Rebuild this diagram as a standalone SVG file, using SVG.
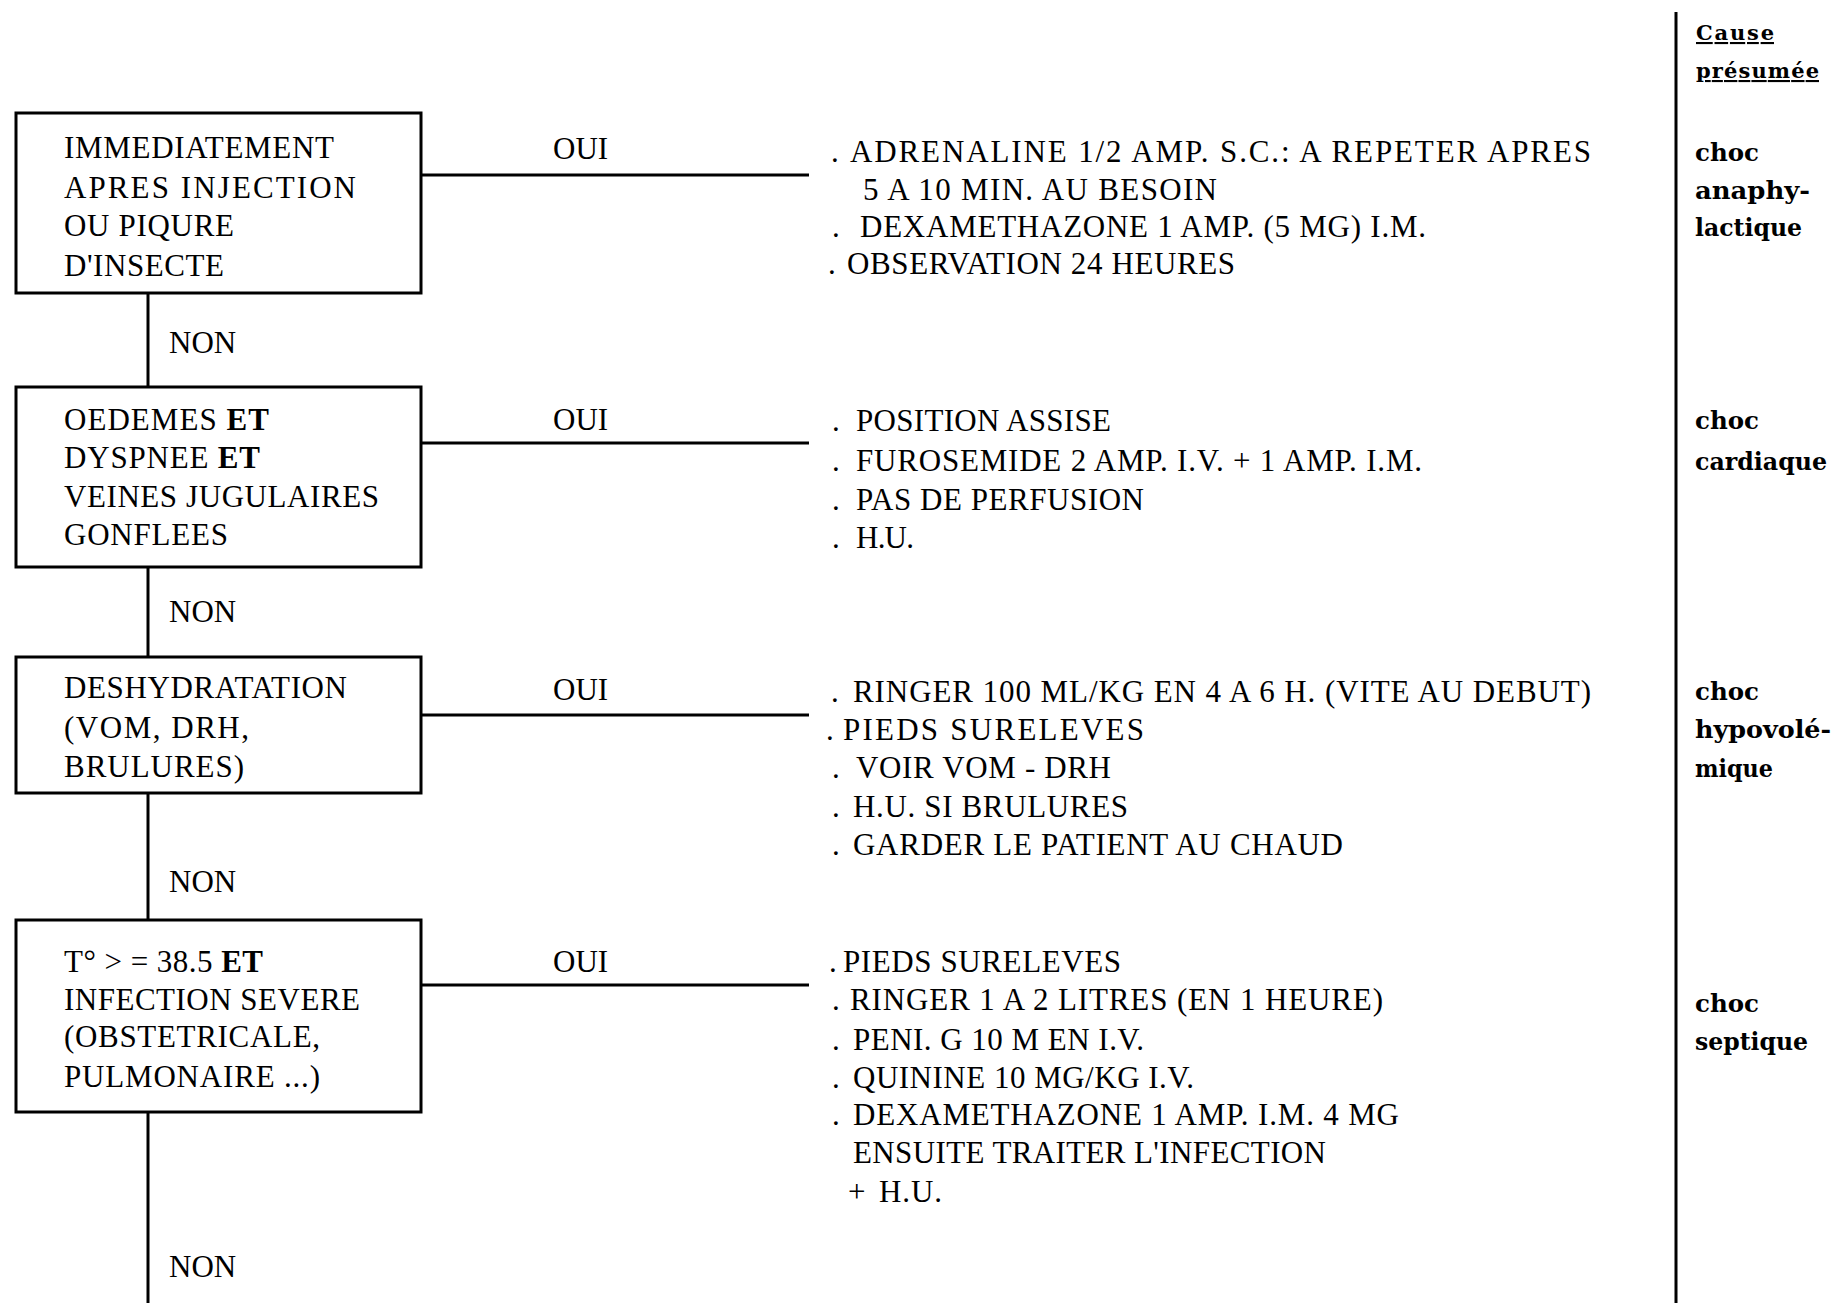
<svg xmlns="http://www.w3.org/2000/svg" width="1838" height="1303" viewBox="0 0 1838 1303">
<style>
  .bg { fill: #ffffff; }
  .box { fill: none; stroke: #000; stroke-width: 3; }
  .ln { stroke: #000; stroke-width: 3; fill: none; }
  .t { font-family: "Liberation Serif", "Times New Roman", serif; font-size: 31px; fill: #000; }
  .b { font-weight: bold; }
  .lab { font-family: "DejaVu Serif", "Liberation Serif", serif; font-size: 24px; font-weight: bold; fill: #000; }
  .hd { font-size: 21px; text-decoration: underline; }
</style>
<rect class="bg" x="0" y="0" width="1838" height="1303"/>

<g id="connectors">
  <line class="ln" x1="148" y1="293" x2="148" y2="387"/>
  <line class="ln" x1="148" y1="567" x2="148" y2="657"/>
  <line class="ln" x1="148" y1="793" x2="148" y2="920"/>
  <line class="ln" x1="148" y1="1112" x2="148" y2="1303"/>
  <line class="ln" x1="421" y1="175" x2="809" y2="175"/>
  <line class="ln" x1="421" y1="443" x2="809" y2="443"/>
  <line class="ln" x1="421" y1="715" x2="809" y2="715"/>
  <line class="ln" x1="421" y1="985" x2="809" y2="985"/>
  <line class="ln" x1="1676" y1="12" x2="1676" y2="1303"/>
  <text class="t" x="553" y="159">OUI</text>
  <text class="t" x="553" y="430">OUI</text>
  <text class="t" x="553" y="700">OUI</text>
  <text class="t" x="553" y="972">OUI</text>
  <text class="t" x="169" y="353">NON</text>
  <text class="t" x="169" y="622">NON</text>
  <text class="t" x="169" y="892">NON</text>
  <text class="t" x="169" y="1277">NON</text>
</g>

<g id="header">
  <text class="lab hd" x="1696" y="40" textLength="78">Cause</text>
  <text class="lab hd" x="1696" y="78" textLength="123">présumée</text>
</g>

<g id="node1">
  <rect class="box" x="16" y="113" width="405" height="180"/>
  <text class="t" x="64" y="158" textLength="270">IMMEDIATEMENT</text>
  <text class="t" x="64" y="198" textLength="292">APRES INJECTION</text>
  <text class="t" x="64" y="236" textLength="170">OU PIQURE</text>
  <text class="t" x="64" y="276" textLength="160">D'INSECTE</text>
</g>
<g id="action1">
  <text class="t" x="831" y="162">.</text>
  <text class="t" x="850" y="162" textLength="741">ADRENALINE 1/2 AMP. S.C.: A REPETER APRES</text>
  <text class="t" x="863" y="200" textLength="354">5 A 10 MIN. AU BESOIN</text>
  <text class="t" x="832" y="237">.</text>
  <text class="t" x="860" y="237" textLength="566">DEXAMETHAZONE 1 AMP. (5 MG) I.M.</text>
  <text class="t" x="828" y="274">.</text>
  <text class="t" x="847" y="274" textLength="388">OBSERVATION 24 HEURES</text>
</g>
<g id="cause1">
  <text class="lab" x="1695" y="161" textLength="64" lengthAdjust="spacingAndGlyphs">choc</text>
  <text class="lab" x="1695" y="199" textLength="115" lengthAdjust="spacingAndGlyphs">anaphy-</text>
  <text class="lab" x="1695" y="236" textLength="107" lengthAdjust="spacingAndGlyphs">lactique</text>
</g>

<g id="node2">
  <rect class="box" x="16" y="387" width="405" height="180"/>
  <text class="t" x="64" y="430" textLength="205">OEDEMES <tspan class="b">ET</tspan></text>
  <text class="t" x="64" y="468" textLength="196">DYSPNEE <tspan class="b">ET</tspan></text>
  <text class="t" x="64" y="507" textLength="315">VEINES JUGULAIRES</text>
  <text class="t" x="64" y="545" textLength="164">GONFLEES</text>
</g>
<g id="action2">
  <text class="t" x="832" y="431">.</text>
  <text class="t" x="856" y="431" textLength="255">POSITION ASSISE</text>
  <text class="t" x="832" y="471">.</text>
  <text class="t" x="856" y="471" textLength="566">FUROSEMIDE 2 AMP. I.V. + 1 AMP. I.M.</text>
  <text class="t" x="832" y="510">.</text>
  <text class="t" x="856" y="510" textLength="288">PAS DE PERFUSION</text>
  <text class="t" x="832" y="548">.</text>
  <text class="t" x="856" y="548" textLength="58">H.U.</text>
</g>
<g id="cause2">
  <text class="lab" x="1695" y="429" textLength="64" lengthAdjust="spacingAndGlyphs">choc</text>
  <text class="lab" x="1695" y="470" textLength="132" lengthAdjust="spacingAndGlyphs">cardiaque</text>
</g>

<g id="node3">
  <rect class="box" x="16" y="657" width="405" height="136"/>
  <text class="t" x="64" y="698" textLength="283">DESHYDRATATION</text>
  <text class="t" x="64" y="738" textLength="185">(VOM, DRH,</text>
  <text class="t" x="64" y="777" textLength="180">BRULURES)</text>
</g>
<g id="action3">
  <text class="t" x="831" y="702">.</text>
  <text class="t" x="853" y="702" textLength="738">RINGER 100 ML/KG EN 4 A 6 H. (VITE AU DEBUT)</text>
  <text class="t" x="826" y="740">.</text>
  <text class="t" x="843" y="740" textLength="301">PIEDS SURELEVES</text>
  <text class="t" x="832" y="778">.</text>
  <text class="t" x="856" y="778" textLength="255">VOIR VOM - DRH</text>
  <text class="t" x="832" y="817">.</text>
  <text class="t" x="853" y="817" textLength="275">H.U. SI BRULURES</text>
  <text class="t" x="832" y="855">.</text>
  <text class="t" x="853" y="855" textLength="490">GARDER LE PATIENT AU CHAUD</text>
</g>
<g id="cause3">
  <text class="lab" x="1695" y="700" textLength="64" lengthAdjust="spacingAndGlyphs">choc</text>
  <text class="lab" x="1695" y="738" textLength="136" lengthAdjust="spacingAndGlyphs">hypovolé-</text>
  <text class="lab" x="1695" y="777" textLength="78" lengthAdjust="spacingAndGlyphs">mique</text>
</g>

<g id="node4">
  <rect class="box" x="16" y="920" width="405" height="192"/>
  <text class="t" x="64" y="972" textLength="199">T° &gt; = 38.5 <tspan class="b">ET</tspan></text>
  <text class="t" x="64" y="1010" textLength="296">INFECTION SEVERE</text>
  <text class="t" x="64" y="1047" textLength="256">(OBSTETRICALE,</text>
  <text class="t" x="64" y="1087" textLength="256">PULMONAIRE ...)</text>
</g>
<g id="action4">
  <text class="t" x="829" y="972">.</text>
  <text class="t" x="843" y="972" textLength="278">PIEDS SURELEVES</text>
  <text class="t" x="832" y="1010">.</text>
  <text class="t" x="850" y="1010" textLength="533">RINGER 1 A 2 LITRES (EN 1 HEURE)</text>
  <text class="t" x="832" y="1050">.</text>
  <text class="t" x="853" y="1050" textLength="291">PENI. G 10 M EN I.V.</text>
  <text class="t" x="832" y="1088">.</text>
  <text class="t" x="853" y="1088" textLength="341">QUININE 10 MG/KG I.V.</text>
  <text class="t" x="832" y="1125">.</text>
  <text class="t" x="853" y="1125" textLength="546">DEXAMETHAZONE 1 AMP. I.M. 4 MG</text>
  <text class="t" x="853" y="1163" textLength="473">ENSUITE TRAITER L'INFECTION</text>
  <text class="t" x="848" y="1202">+</text>
  <text class="t" x="879" y="1202" textLength="63">H.U.</text>
</g>
<g id="cause4">
  <text class="lab" x="1695" y="1012" textLength="64" lengthAdjust="spacingAndGlyphs">choc</text>
  <text class="lab" x="1695" y="1050" textLength="113" lengthAdjust="spacingAndGlyphs">septique</text>
</g>
</svg>
